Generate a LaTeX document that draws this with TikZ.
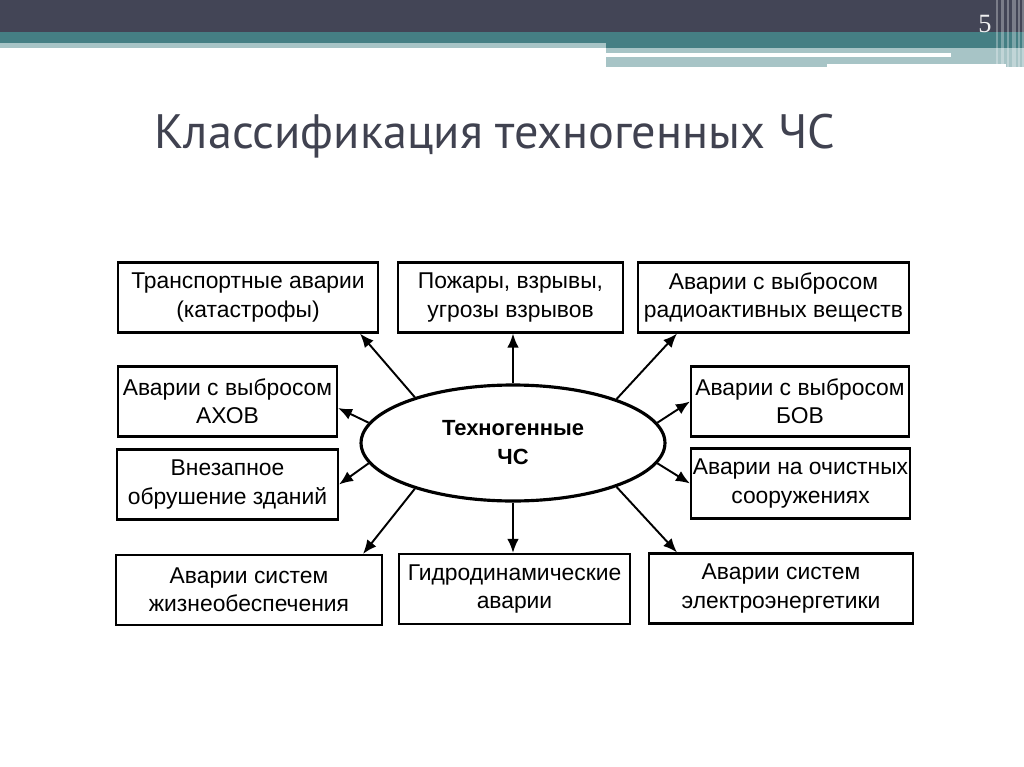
\documentclass[tikz,border=0pt]{standalone}
\usepackage{fontspec}
\setmainfont{Liberation Sans}
\newfontfamily\titlefont{PT Sans}
\newfontfamily\numfont{Liberation Serif}
\usepackage{tikz}
\usetikzlibrary{arrows.meta,positioning,calc,shapes.geometric}
\definecolor{shapka}{HTML}{434556}
\definecolor{biruza}{HTML}{457F84}
\definecolor{svetbir}{HTML}{A7C4C6}
\definecolor{zagol}{HTML}{404250}
\tikzset{
  blok/.style={draw,line width=1.2pt,inner sep=0pt,align=center,minimum height=1.4cm,
    font=\fontsize{13}{16}\selectfont},
  centr/.style={draw,ellipse,line width=1.8pt,inner sep=0pt,minimum width=6.08cm,minimum height=2.32cm,
    align=center,font=\fontsize{12.5}{16.5}\selectfont\bfseries},
  strelka/.style={line width=1.1pt,-{Latex[length=2.8mm,width=2.3mm]}}
}
\begin{document}
\begin{tikzpicture}[x=0.02cm,y=-0.02cm]
\useasboundingbox (0,0) rectangle (1024,767);
% shapka slajda
\fill[shapka] (0,0) rectangle (1024,32);
\fill[biruza] (0,32) rectangle (1024,43);
\fill[biruza] (606,43) rectangle (1024,48);
\fill[svetbir] (0,43) rectangle (606,48);
\fill[svetbir] (606,48) rectangle (1024,67);
\fill[white] (606,53) rectangle (951,57);
\fill[white] (827,64) rectangle (1006,67);
\foreach \xs/\ws in {996/2,1001/3,1007/2,1012/4,1018/2,1022/2}
  \fill[white,opacity=0.3] (\xs,0) rectangle ({\xs+\ws},67);
\node[text=white!92!shapka,font=\numfont\fontsize{15}{15}\selectfont] (nomer) at (985,24) {5};
\node[text=zagol,font=\titlefont\fontsize{27.5}{30}\selectfont,anchor=base west,inner sep=0pt] (zag) at (154,149) {Классификация техногенных ЧС};

% shema
\node[centr] (hub) at (513,443) {Техногенные\\ЧС};
\node[blok,minimum width=5.2cm]  (b1)  at (248,297.5) {Транспортные аварии\\(катастрофы)};
\node[blok,minimum width=4.5cm]  (b2)  at (510.5,297.5) {Пожары, взрывы,\\угрозы взрывов};
\node[blok,minimum width=5.42cm] (b3)  at (773.5,297.5) {Аварии с выбросом\\радиоактивных веществ};
\node[blok,minimum width=4.38cm] (b4)  at (227.5,401.5) {Аварии с выбросом\\АХОВ};
\node[blok,minimum width=4.36cm] (b5)  at (800,401.5) {Аварии с выбросом\\БОВ};
\node[blok,minimum width=4.42cm] (b6)  at (227.5,484.5) {Внезапное\\обрушение зданий};
\node[blok,minimum width=4.38cm] (b7)  at (800.5,483.5) {Аварии на очистных\\сооружениях};
\node[blok,minimum width=5.32cm] (b8)  at (249,590) {Аварии систем\\жизнеобеспечения};
\node[blok,minimum width=4.62cm] (b9)  at (514.5,589) {Гидродинамические\\аварии};
\node[blok,minimum width=5.28cm] (b10) at (781,588.5) {Аварии систем\\электроэнергетики};

\draw[strelka] (hub.155) -- ([xshift=2.24cm]b1.south);
\draw[strelka] (hub.north) -- (hub.north |- b2.south);
\draw[strelka] (hub.23) -- ([xshift=-1.93cm]b3.south);
\draw[strelka] (hub.172) -- ([yshift=-0.13cm]b4.east);
\draw[strelka] (hub.8) -- (b5.west);
\draw[strelka] (hub.188) -- (b6.east);
\draw[strelka] (hub.352) -- (b7.west);
\draw[strelka] (hub.205) -- ([xshift=2.28cm]b8.north);
\draw[strelka] (hub.south) -- (hub.south |- b9.north);
\draw[strelka] (hub.337) -- ([xshift=-2.08cm]b10.north);
\end{tikzpicture}
\end{document}
